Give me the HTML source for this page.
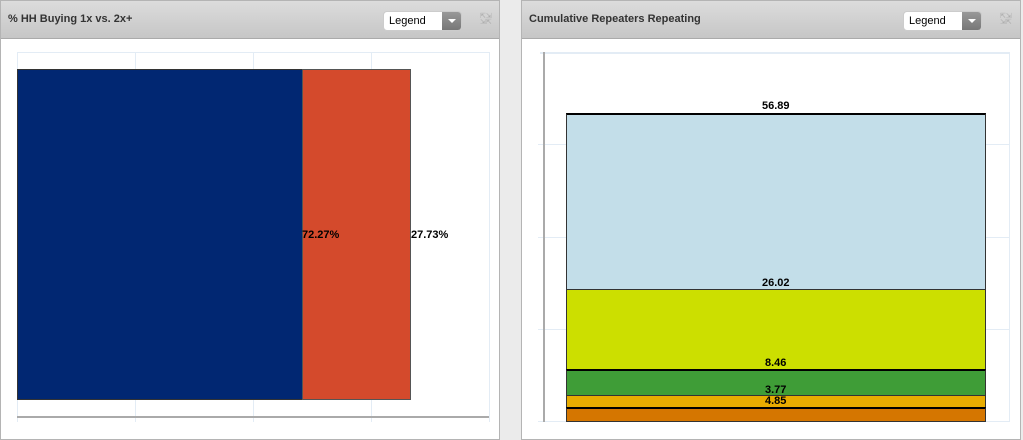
<!DOCTYPE html>
<html><head><style>
body{margin:0;width:1023px;height:440px;background:#ebebeb;position:relative;overflow:hidden;font-family:"Liberation Sans",Arial,sans-serif}
.p{position:absolute;top:0;height:438px;width:498px;background:#fff;border:1px solid #b4b4b4}
.h{position:absolute;left:0;top:0;right:0;height:37px;background:linear-gradient(#dcdcdc,#c6c6c6);border-bottom:1px solid #aaa}
.t{position:absolute;left:7px;top:12px;font-size:11px;font-weight:bold;color:#333}
.sel{position:absolute;top:10px;width:77px;height:18px;background:#fff;border:1px solid #ccc;border-radius:4px;font-size:11px;line-height:18px;overflow:hidden}
.sel span{padding-left:5px}
.sel i{position:absolute;right:0;top:0;width:19px;height:18px;background:linear-gradient(#999,#777)}
.sel i:after{content:"";position:absolute;left:6px;top:7px;border-left:4px solid transparent;border-right:4px solid transparent;border-top:4px solid #fff}
.ic{position:absolute;top:13px;width:12px;height:12px;color:#aaa;font-size:7px;line-height:6px}
.a{position:absolute}
.l{position:absolute;font-size:11px;font-weight:bold;color:#000}
</style></head><body>
<div class="p" style="left:0">
<div class="h"><div class="t">% HH Buying 1x vs. 2x+</div><div class="sel" style="left:382px"><span>Legend</span><i></i></div><div class="ic" style="left:479px">⇱⇲<br>⇲⇱</div></div>
</div>
<div class="p" style="left:521px">
<div class="h"><div class="t">Cumulative Repeaters Repeating</div><div class="sel" style="left:381px"><span>Legend</span><i></i></div><div class="ic" style="left:478px">⇱⇲<br>⇲⇱</div></div>
</div>
<!-- left chart -->
<div class="a" style="left:17px;top:52px;width:472px;height:1px;background:#e3ecf5"></div>
<div class="a" style="left:17px;top:52px;width:1px;height:370px;background:#e3ecf5"></div>
<div class="a" style="left:135px;top:52px;width:1px;height:370px;background:#e3ecf5"></div>
<div class="a" style="left:253px;top:52px;width:1px;height:370px;background:#e3ecf5"></div>
<div class="a" style="left:371px;top:52px;width:1px;height:370px;background:#e3ecf5"></div>
<div class="a" style="left:489px;top:52px;width:1px;height:370px;background:#e3ecf5"></div>
<div class="a" style="left:17px;top:69px;width:284px;height:329px;background:#012772;border:1px solid #333"></div>
<div class="a" style="left:302px;top:69px;width:107px;height:329px;background:#d44a2c;border:1px solid #555"></div>
<div class="a" style="left:17px;top:416px;width:472px;height:2px;background:#aaa"></div>
<div class="l" style="left:302px;top:229px">72.27%</div>
<div class="l" style="left:411px;top:229px">27.73%</div>
<!-- right chart -->
<div class="a" style="left:540px;top:52px;width:470px;height:2px;background:#e3ecf5"></div>
<div class="a" style="left:538px;top:144px;width:472px;height:1px;background:#e3ecf5"></div>
<div class="a" style="left:538px;top:237px;width:472px;height:1px;background:#e3ecf5"></div>
<div class="a" style="left:538px;top:329px;width:472px;height:1px;background:#e3ecf5"></div>
<div class="a" style="left:538px;top:421px;width:472px;height:1px;background:#e3ecf5"></div>
<div class="a" style="left:1009px;top:52px;width:1px;height:370px;background:#e3ecf5"></div>
<div class="a" style="left:543px;top:52px;width:2px;height:370px;background:#aaa"></div>
<div class="a" style="left:566px;top:113px;width:420px;height:176px;background:#c3dee9;border:1px solid #333;border-top:2px solid #000;box-sizing:border-box;height:177px"></div>
<div class="a" style="left:566px;top:289px;width:420px;height:81px;background:#ccdf00;border:1px solid #333;border-top:1px solid #333;box-sizing:border-box"></div>
<div class="a" style="left:566px;top:369px;width:420px;height:27px;background:#3f9d37;border:1px solid #333;border-top:2px solid #000;box-sizing:border-box"></div>
<div class="a" style="left:566px;top:395px;width:420px;height:13px;background:#e8ac00;border:1px solid #333;box-sizing:border-box"></div>
<div class="a" style="left:566px;top:407px;width:420px;height:15px;background:#d57600;border:1px solid #333;border-top:2px solid #000;box-sizing:border-box"></div>
<div class="l" style="left:762px;top:100px">56.89</div>
<div class="l" style="left:762px;top:277px">26.02</div>
<div class="l" style="left:765px;top:357px">8.46</div>
<div class="l" style="left:765px;top:384px">3.77</div>
<div class="l" style="left:765px;top:395px">4.85</div>
</body></html>
